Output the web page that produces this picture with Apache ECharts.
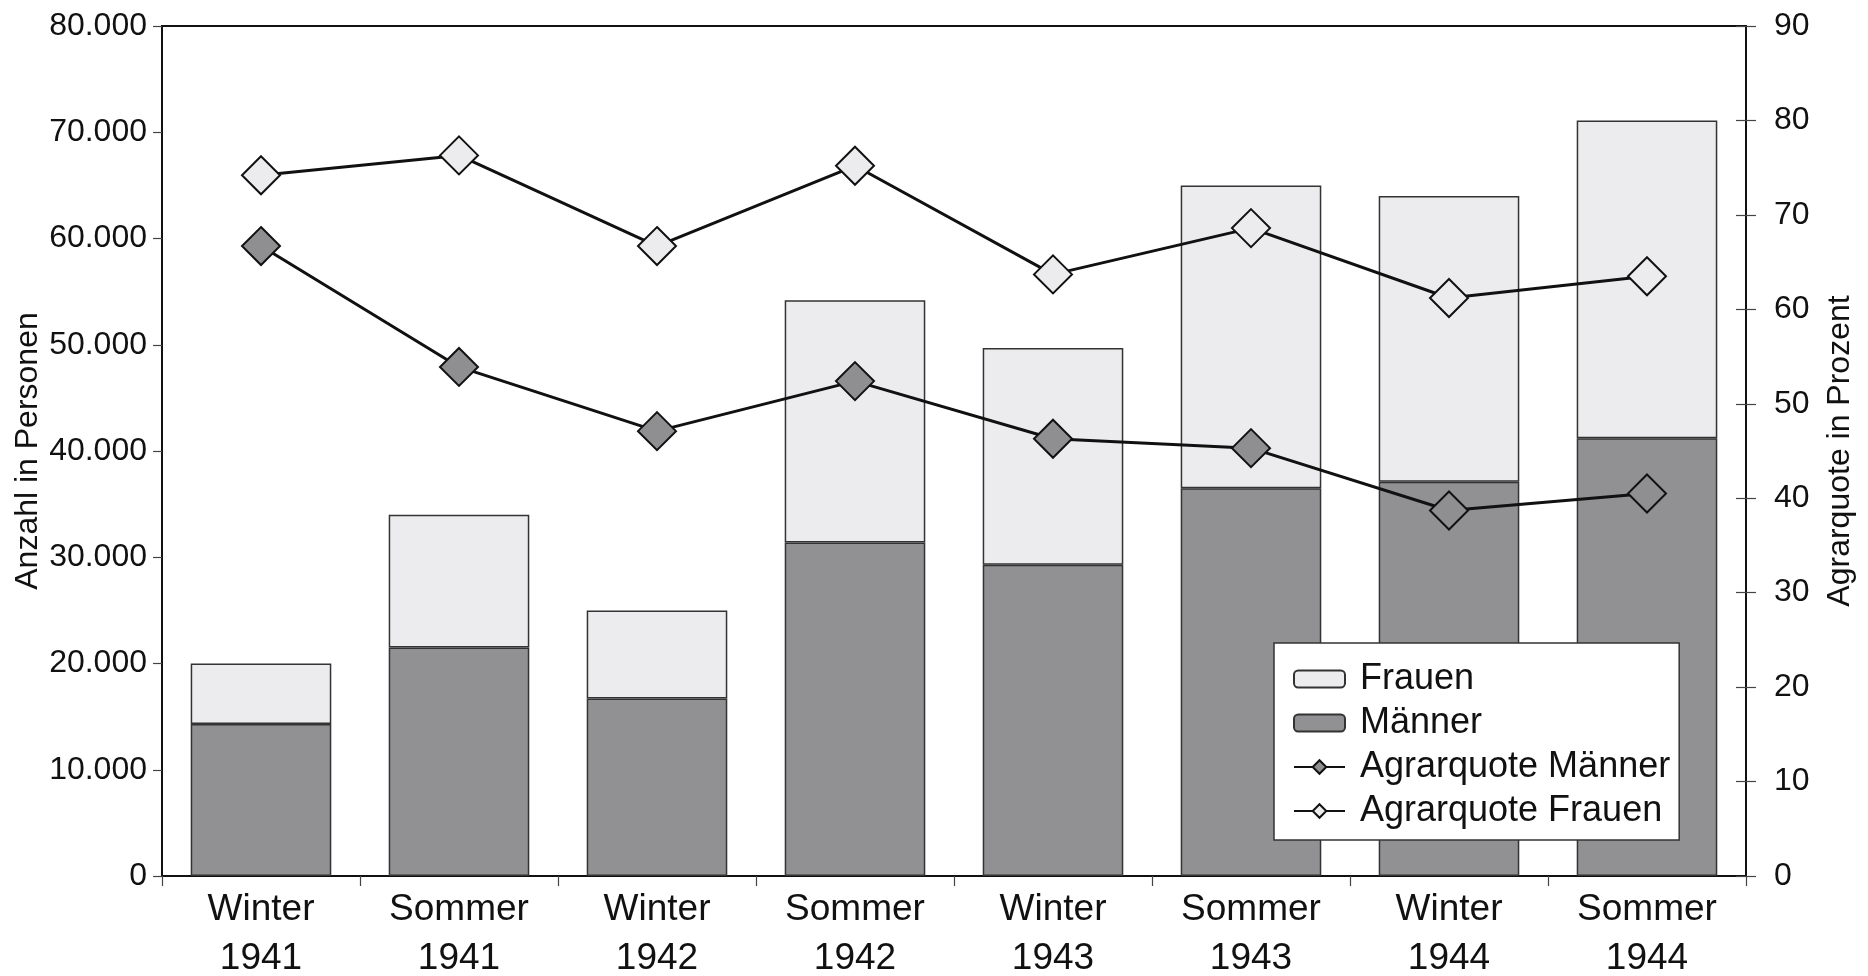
<!DOCTYPE html>
<html>
<head>
<meta charset="utf-8">
<script src="https://cdn.jsdelivr.net/npm/echarts@6/dist/echarts.min.js"></script>
<style>
  html, body { margin: 0; padding: 0; background: #fff; }
  #chart { width: 1868px; height: 976px; }
</style>
</head>
<body>
<div id="chart"></div>
<script>
// Half-year periods
const categories = ['Winter\n1941', 'Sommer\n1941', 'Winter\n1942', 'Sommer\n1942',
                    'Winter\n1943', 'Sommer\n1943', 'Winter\n1944', 'Sommer\n1944'];

// Number of persons (left axis)
const maenner = [14300, 21500, 16700, 31400, 29300, 36500, 37100, 41200];
const frauen  = [5700, 12500, 8300, 22800, 20400, 28500, 26900, 29900];

// Share working in agriculture, percent (right axis)
const quoteMaenner = [66.7, 53.9, 47.1, 52.4, 46.3, 45.3, 38.7, 40.5];
const quoteFrauen  = [74.2, 76.3, 66.7, 75.2, 63.7, 68.6, 61.2, 63.5];

const FONT = "'Liberation Sans Narrow', 'Arial Narrow', 'Liberation Sans', Arial, sans-serif";
const INK = '#111';

function thousands(v) {
  return String(v).replace(/\B(?=(\d{3})+(?!\d))/g, '.');
}

const chart = echarts.init(document.getElementById('chart'), null, { renderer: 'canvas' });

chart.setOption({
  backgroundColor: '#ffffff',
  animation: false,
  textStyle: { fontFamily: FONT, color: INK },
  grid: {
    left: 162, right: 122, top: 26, bottom: 100,
    outerBoundsMode: 'none',
    show: true, borderColor: INK, borderWidth: 2, backgroundColor: 'transparent'
  },
  legend: {
    orient: 'vertical',
    left: 1274, top: 643,
    data: ['Frauen', 'Männer', 'Agrarquote Männer', 'Agrarquote Frauen'],
    backgroundColor: '#ffffff',
    borderColor: '#333',
    borderWidth: 1.5,
    borderRadius: 0,
    padding: [14, 9, 7, 19],
    itemWidth: 51,
    itemHeight: 17,
    itemGap: 0,
    textStyle: { fontFamily: FONT, fontSize: 36, color: INK, lineHeight: 44, padding: [0, 0, 0, 10] }
  },
  xAxis: {
    type: 'category',
    data: categories,
    axisLine: { lineStyle: { color: INK, width: 2 } },
    axisTick: { show: true, length: 10, lineStyle: { color: '#444', width: 1.2 } },
    axisLabel: { fontFamily: FONT, fontSize: 37, lineHeight: 49, color: INK, margin: 9, interval: 0 }
  },
  yAxis: [
    {
      type: 'value', min: 0, max: 80000, interval: 10000,
      name: 'Anzahl in Personen', nameLocation: 'middle', nameRotate: 90, nameGap: 118,
      nameMoveOverlap: false,
      nameTextStyle: { fontFamily: FONT, fontSize: 32, color: INK },
      axisLine: { show: true, lineStyle: { color: INK, width: 2 } },
      axisTick: { show: true, length: 9, lineStyle: { color: '#444', width: 1.2 } },
      axisLabel: { fontFamily: FONT, fontSize: 32, color: INK, margin: 15, formatter: thousands },
      splitLine: { show: false }
    },
    {
      type: 'value', min: 0, max: 90, interval: 10, position: 'right',
      name: 'Agrarquote in Prozent', nameLocation: 'middle', nameRotate: 90, nameGap: 78,
      nameMoveOverlap: false,
      nameTextStyle: { fontFamily: FONT, fontSize: 32, color: INK },
      axisLine: { show: true, lineStyle: { color: INK, width: 2 } },
      axisTick: { show: true, length: 10, lineStyle: { color: '#444', width: 1.2 } },
      axisLabel: { fontFamily: FONT, fontSize: 32, color: INK, margin: 28 },
      splitLine: { show: false }
    },
    {
      // inner half of the crossing ticks on the percent axis
      type: 'value', min: 0, max: 90, interval: 10, position: 'right',
      axisLine: { show: false },
      axisTick: { show: true, inside: true, length: 10, lineStyle: { color: '#444', width: 1.2 } },
      axisLabel: { show: false },
      splitLine: { show: false }
    }
  ],
  series: [
    {
      name: 'Männer', type: 'bar', stack: 'personen', data: maenner,
      barCategoryGap: '29%',
      itemStyle: { color: '#919193', borderColor: '#333', borderWidth: 1.5 },
      z: 2
    },
    {
      name: 'Frauen', type: 'bar', stack: 'personen', data: frauen,
      itemStyle: { color: '#ececee', borderColor: '#333', borderWidth: 1.5 },
      z: 2
    },
    {
      name: 'Agrarquote Männer', type: 'line', yAxisIndex: 1, data: quoteMaenner,
      symbol: 'diamond', symbolSize: 38,
      lineStyle: { color: INK, width: 3 },
      itemStyle: { color: '#8f8f91', borderColor: INK, borderWidth: 2 },
      z: 5
    },
    {
      name: 'Agrarquote Frauen', type: 'line', yAxisIndex: 1, data: quoteFrauen,
      symbol: 'diamond', symbolSize: 38,
      lineStyle: { color: INK, width: 3 },
      itemStyle: { color: '#ececee', borderColor: INK, borderWidth: 2 },
      z: 5
    }
  ]
});
</script>
</body>
</html>
